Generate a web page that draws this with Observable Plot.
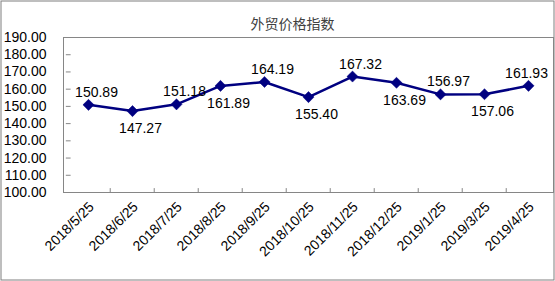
<!DOCTYPE html>
<html>
<head>
<meta charset="utf-8">
<script src="https://cdn.jsdelivr.net/npm/d3@7"></script>
<script src="https://cdn.jsdelivr.net/npm/@observablehq/plot@0.6"></script>
<style>
  html, body { margin: 0; padding: 0; background: #fff; }
  svg { display: block; }
</style>
</head>
<body>
<div id="chart"></div>
<script>
const title = "外贸价格指数";
const dates = ["2018/5/25", "2018/6/25", "2018/7/25", "2018/8/25", "2018/9/25", "2018/10/25",
               "2018/11/25", "2018/12/25", "2019/1/25", "2019/3/25", "2019/4/25"];
const values = [150.89, 147.27, 151.18, 161.89, 164.19, 155.40, 167.32, 163.69, 156.97, 157.06, 161.93];
const yTicks = [100, 110, 120, 130, 140, 150, 160, 170, 180, 190];

const data = dates.map((d, i) => ({date: d, value: values[i], i}));
const last = data.length - 1;

const W = 555, H = 281;
const mL = 63, mR = 2, mT = 37, mB = 89;
const step = (W - mL - mR) / dates.length;
const navy = "#000080";
const gray = "#868686";
const tickShape = {draw(ctx, l) { ctx.moveTo(0, 0); ctx.lineTo(0, -l); }};

const chart = Plot.plot({
  width: W,
  height: H,
  marginLeft: mL,
  marginRight: mR,
  marginTop: mT,
  marginBottom: mB,
  style: {fontFamily: "'Liberation Sans', Arial, sans-serif", fontSize: "14px", color: "#000", background: "#fff"},
  x: {type: "point", domain: dates, padding: 0.5, label: null},
  y: {domain: [yTicks[0], yTicks[yTicks.length - 1]], label: null},
  marks: [
    // outer border
    Plot.frame({stroke: "#7f7f7f", insetLeft: -62.5, insetTop: -36.5, insetRight: -0.5, insetBottom: -87.5}),
    // plot area frame
    Plot.frame({stroke: gray}),
    // x ticks between categories (inward)
    Plot.vector(dates.slice(1), {x: d => d, y: () => yTicks[0], dx: -step / 2, length: 4, anchor: "start",
      shape: tickShape, stroke: gray, strokeWidth: 1}),
    // y ticks (inward)
    Plot.vector(yTicks.slice(1, -1), {x: () => dates[0], y: d => d, dx: -step / 2, rotate: 90, length: 4,
      anchor: "start", shape: tickShape, stroke: gray, strokeWidth: 1}),
    Plot.axisY({ticks: yTicks, tickFormat: d => d.toFixed(2), tickSize: 0, tickPadding: 17, fontSize: 14, fill: "#000", label: null}),
    Plot.axisX({tickSize: 0, tickRotate: -45, tickPadding: 12, dx: 3, fontSize: 14, fill: "#000", label: null}),
    Plot.line(data, {x: "date", y: "value", stroke: navy, strokeWidth: 2.5}),
    Plot.dot(data, {x: "date", y: "value", symbol: "diamond2", r: 5, fill: navy, stroke: navy, strokeWidth: 0.5}),
    Plot.text(data.filter(d => d.i % 2 === 0 && d.i !== last), {x: "date", y: "value", text: d => d.value.toFixed(2),
      dx: 8, dy: -12.5, fontSize: 14, fill: "#000"}),
    Plot.text(data.filter(d => d.i % 2 === 1), {x: "date", y: "value", text: d => d.value.toFixed(2),
      dx: 8, dy: 17.5, fontSize: 14, fill: "#000"}),
    Plot.text(data.filter(d => d.i === last), {x: "date", y: "value", text: d => d.value.toFixed(2),
      dx: -2, dy: -12.5, fontSize: 14, fill: "#000"}),
    Plot.text([title], {frameAnchor: "top", dx: -16, dy: -18, fontSize: 14, fill: "#404040",
      fontFamily: "'Noto Sans CJK SC', sans-serif"})
  ]
});
document.getElementById("chart").appendChild(chart);
</script>
</body>
</html>
